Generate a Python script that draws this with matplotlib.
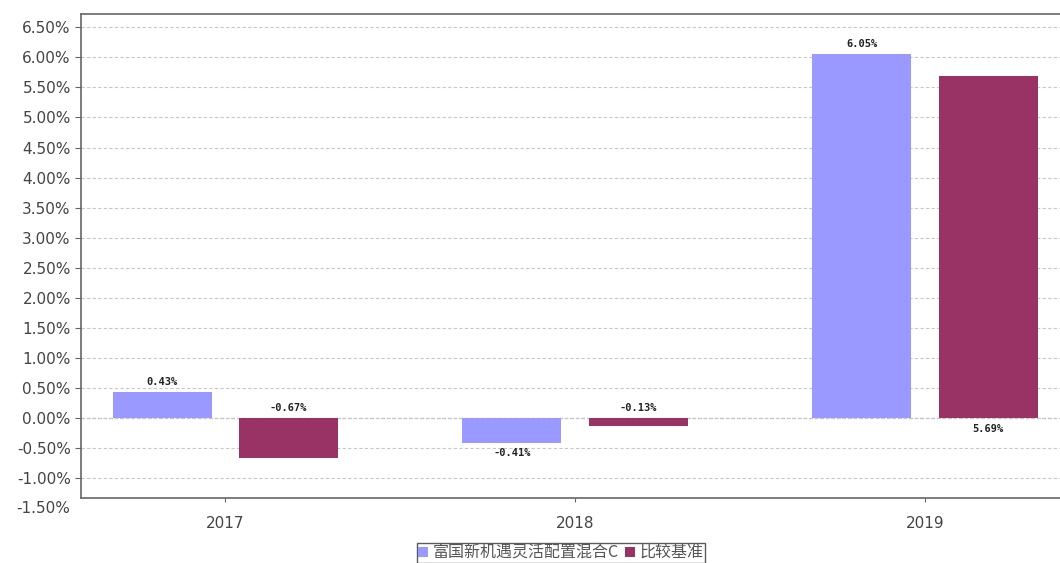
import numpy as np
import matplotlib
matplotlib.use('Agg')
import matplotlib.pyplot as plt
from matplotlib.ticker import FixedLocator

plt.rcParams['font.family'] = ['DejaVu Sans', 'Noto Sans CJK SC']

years = ['2017', '2018', '2019']
fund_returns = [0.43, -0.41, 6.05]
bench_returns = [-0.67, -0.13, 5.69]
series_names = ['富国新机遇灵活配置混合C', '比较基准']
yticks = np.arange(-1.5, 6.51, 0.5)

fig = plt.figure(figsize=(10.6, 5.63), dpi=100)
ax = fig.add_axes([80.5 / 1060, 65.5 / 563, 1 - 80.5 / 1060, 483.5 / 563])

x = np.arange(len(years))
bw = 0.283
off = 0.181
b1 = ax.bar(x - off, fund_returns, bw, color='#9999FF', label=series_names[0], zorder=3)
b2 = ax.bar(x + off, bench_returns, bw, color='#993366', label=series_names[1], zorder=3)

lab_font = dict(family='DejaVu Sans Mono', fontsize=7.5, fontweight='bold', color='#222222')
for xi, v in zip(x - off, fund_returns):
    va = 'bottom' if v >= 0 else 'top'
    ax.annotate(f'{v:.2f}%', (xi, v), xytext=(0, 4 if v >= 0 else -4),
                textcoords='offset points', ha='center', va=va, **lab_font)
for xi, v in zip(x + off, bench_returns):
    # benchmark labels sit at the zero line, on the side away from the bar
    va = 'top' if v >= 0 else 'bottom'
    ax.annotate(f'{v:.2f}%', (xi, 0), xytext=(0, -4 if v >= 0 else 4),
                textcoords='offset points', ha='center', va=va, **lab_font)

ax.set_xlim(-0.414, 2.386)
ax.set_ylim(-1.32, 6.72)
ax.yaxis.set_major_locator(FixedLocator(yticks))
ax.set_yticklabels([f'{t:.2f}%' for t in yticks])
ax.set_xticks(x)
ax.set_xticklabels(years)

# -1.50% tick sits below the clipped plot area
ax.text(-0.0105, -1.5, '-1.50%', transform=ax.get_yaxis_transform(), ha='right',
        va='center', fontsize=11, color='#444444', clip_on=False)

ax.grid(axis='y', linestyle=(0, (3, 2)), color='#c8c8c8', lw=0.8, zorder=0)
ax.axhline(0, linestyle=(0, (3, 2)), color='#777777', lw=0.8, zorder=1)
ax.tick_params(axis='y', labelsize=11, labelcolor='#444444', length=4, color='#666666', pad=3)
ax.tick_params(axis='x', labelsize=11, labelcolor='#444444', length=3, color='#666666', pad=10)
for s in ['left', 'bottom', 'top']:
    ax.spines[s].set_color('#666666')
    ax.spines[s].set_linewidth(1.2)
ax.spines['right'].set_visible(False)

leg = fig.legend(handles=[b1, b2], loc='lower center', bbox_to_anchor=(561 / 1060, 0.0),
                 ncol=2, frameon=True, fancybox=False, edgecolor='#333333',
                 prop={'family': ['Noto Sans CJK SC'], 'size': 11.5},
                 handlelength=0.6, handleheight=0.6, handletextpad=0.3, columnspacing=0.4,
                 borderpad=0.1, borderaxespad=0)
for t in leg.get_texts():
    t.set_color('#555555')

fig.savefig('out.png', dpi=100, facecolor='white')
